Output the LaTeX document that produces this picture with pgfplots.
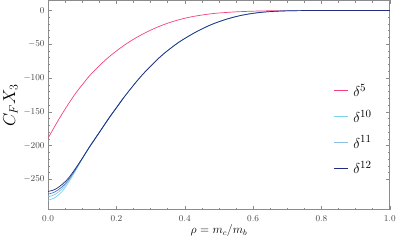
\documentclass[border=0pt]{standalone}
\usepackage{pgfplots}
\pgfplotsset{compat=1.18}
\definecolor{cpink}{HTML}{F5407F}
\definecolor{ccyan}{HTML}{7ED3EA}
\definecolor{clblue}{HTML}{8CBFE2}
\definecolor{cmblue}{HTML}{3D7BC8}
\definecolor{cnavy}{HTML}{232C80}
\definecolor{fgray}{HTML}{8C8C8C}
\definecolor{ticklab}{HTML}{444444}
\begin{document}
\begin{tikzpicture}
\begin{axis}[
  scale only axis,
  width=341bp, height=209bp,
  xmin=0, xmax=1, ymin=-295, ymax=15,
  xtick={0,0.2,...,1.0},
  ytick={-250,-200,-150,-100,-50,0},
  minor x tick num=3,
  minor y tick num=4,
  tick align=inside,
  major tick length=4bp,
  minor tick length=2.2bp,
  axis line style={fgray, line width=0.6pt},
  every tick/.style={fgray, line width=0.45pt},
  tick label style={font=\fontsize{9}{10}\selectfont, text=ticklab},
  xticklabel style={yshift=-2.5bp, /pgf/number format/.cd, fixed, fixed zerofill, precision=1},
  xlabel={$\rho = m_c/m_b$},
  ylabel={$C_F X_3$},
  xlabel style={font=\fontsize{11.5}{13}\selectfont, yshift=3.5bp},
  ylabel style={font=\fontsize{17}{19}\selectfont, yshift=-1bp},
  legend style={draw=none, fill=none, at={(rel axis cs:0.835,0.60)}, anchor=north west,
    font=\fontsize{15.5}{17}\selectfont, row sep=12bp, inner sep=0pt,
    nodes={inner xsep=4.5bp, inner ysep=0pt}},
  legend cell align=left,
  legend image code/.code={\draw[#1, line width=1.2pt] (0bp,0.3bp) -- (14bp,0.3bp);},
]
\addplot[color=cpink, line width=0.7pt, smooth] coordinates {
(0,-189) (0.02,-171) (0.04,-154) (0.06,-138) (0.08,-123) (0.10,-110) (0.12,-97.5)
(0.14,-87) (0.16,-77) (0.18,-68) (0.20,-60) (0.22,-52.5) (0.24,-45.8) (0.26,-39.7)
(0.28,-34.2) (0.30,-29.2) (0.32,-24.7) (0.34,-20.7) (0.36,-17.2) (0.38,-14.2)
(0.40,-11.6) (0.42,-9.4) (0.44,-7.6) (0.46,-6.1) (0.48,-4.8) (0.50,-3.8)
(0.55,-2.1) (0.60,-1.1) (0.65,-0.5) (0.70,-0.2) (0.80,0) (0.90,0) (1.0,0)};
\addlegendentry{$\delta^{5}$}
\addplot[color=ccyan, line width=0.7pt, smooth] coordinates {
(0,-281) (0.02,-277) (0.04,-268.5) (0.06,-254.5) (0.08,-237.5) (0.10,-219.5) (0.12,-203)
(0.14,-188) (0.16,-173) (0.18,-158) (0.20,-144) (0.22,-130) (0.24,-117) (0.26,-104.5)
(0.28,-93) (0.30,-82.5) (0.32,-72.5) (0.34,-63.5) (0.36,-55.5) (0.38,-48) (0.40,-41.5)
(0.42,-35.5) (0.44,-30) (0.46,-25) (0.48,-20.5) (0.50,-16.7) (0.52,-13.3) (0.54,-10.4)
(0.56,-7.9) (0.58,-5.9) (0.60,-4.3) (0.62,-3.0) (0.65,-1.7) (0.70,-0.6) (0.75,-0.2)
(0.80,-0.05) (0.90,0) (1.0,0)};
\addlegendentry{$\delta^{10}$}
\addplot[color=clblue, line width=0.7pt, smooth] coordinates {
(0,-276) (0.02,-272.5) (0.04,-264.5) (0.06,-252) (0.08,-236.5) (0.10,-219.3) (0.12,-203)
(0.14,-188) (0.16,-173) (0.18,-158) (0.20,-144) (0.22,-130) (0.24,-117) (0.26,-104.5)
(0.28,-93) (0.30,-82.5) (0.32,-72.5) (0.34,-63.5) (0.36,-55.5) (0.38,-48) (0.40,-41.5)
(0.42,-35.5) (0.44,-30) (0.46,-25) (0.48,-20.5) (0.50,-16.7) (0.52,-13.3) (0.54,-10.4)
(0.56,-7.9) (0.58,-5.9) (0.60,-4.3) (0.62,-3.0) (0.65,-1.7) (0.70,-0.6) (0.75,-0.2)
(0.80,-0.05) (0.90,0) (1.0,0)};
\addlegendentry{$\delta^{11}$}
\addplot[color=cmblue, line width=0.7pt, smooth, forget plot] coordinates {
(0,-272) (0.02,-268.7) (0.04,-261.5) (0.06,-250.3) (0.08,-235.5) (0.10,-219.1) (0.12,-203)
(0.14,-188) (0.16,-173) (0.18,-158) (0.20,-144) (0.22,-130)};
\addplot[color=cnavy, line width=0.7pt, smooth] coordinates {
(0,-268) (0.02,-265) (0.04,-258) (0.06,-248) (0.08,-234) (0.10,-219) (0.12,-203)
(0.14,-188) (0.16,-173) (0.18,-158) (0.20,-144) (0.22,-130) (0.24,-117) (0.26,-104.5)
(0.28,-93) (0.30,-82.5) (0.32,-72.5) (0.34,-63.5) (0.36,-55.5) (0.38,-48) (0.40,-41.5)
(0.42,-35.5) (0.44,-30) (0.46,-25) (0.48,-20.5) (0.50,-16.7) (0.52,-13.3) (0.54,-10.4)
(0.56,-7.9) (0.58,-5.9) (0.60,-4.3) (0.62,-3.0) (0.65,-1.7) (0.70,-0.6) (0.75,-0.2)
(0.80,-0.05) (0.90,0) (1.0,0)};
\addlegendentry{$\delta^{12}$}
\end{axis}
\end{tikzpicture}
\end{document}
